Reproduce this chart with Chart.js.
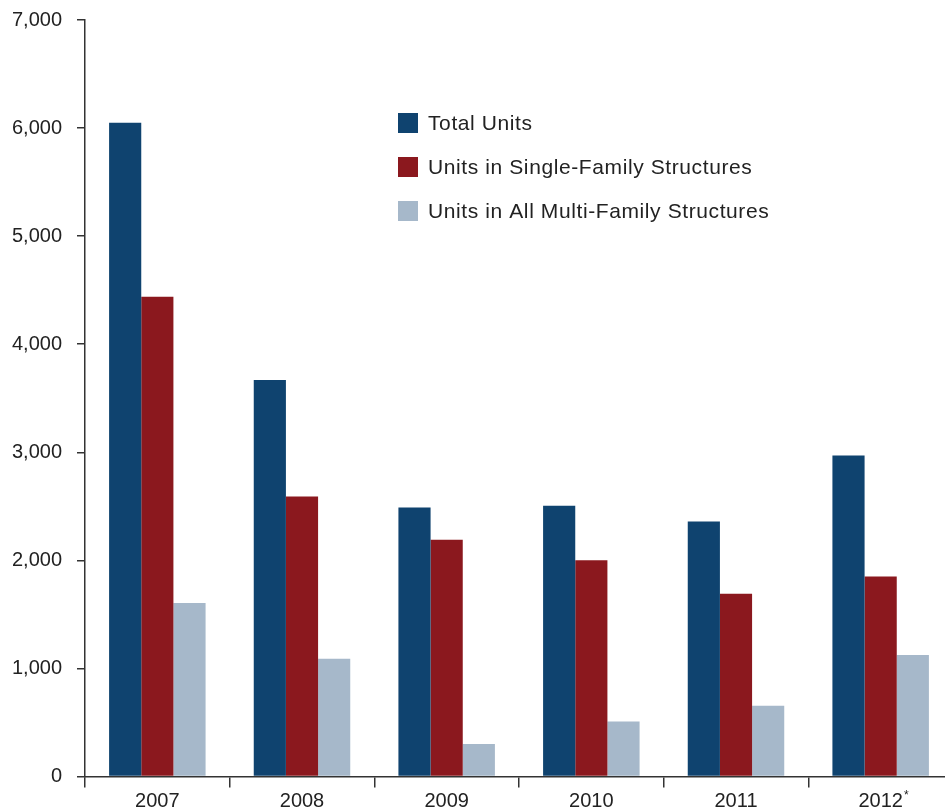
<!DOCTYPE html>
<html>
<head>
<meta charset="utf-8">
<script src="https://cdn.jsdelivr.net/npm/chart.js@4.4.0/dist/chart.umd.min.js"></script>
<style>
  html, body { margin: 0; padding: 0; background: #fff; overflow: hidden; }
  #wrap { width: 953px; height: 818px; position: relative; top: -7px; }
</style>
</head>
<body>
<div id="wrap"><canvas id="chart"></canvas></div>
<script>
// Dados
const years = ['2007', '2008', '2009', '2010', '2011', '2012'];
const totalUnits = [6050, 3670, 2490, 2505, 2360, 2970];
const singleFamily = [4440, 2590, 2190, 2000, 1690, 1850];
const multiFamily = [1605, 1090, 300, 510, 655, 1125];
const yTicks = [0, 1000, 2000, 3000, 4000, 5000, 6000, 7000];
const seriesNames = ['Total Units', 'Units in Single-Family Structures', 'Units in All Multi-Family Structures'];
const colors = ['#0f436f', '#8b181e', '#a6b8ca'];

const textColor = '#222';
const fontFamily = '"Liberation Sans", Arial, Helvetica, sans-serif';

// legenda dentro da área do gráfico (o canvas está deslocado 7px para cima)
const legendInside = {
    id: 'legendInside',
    afterDraw(chart) {
        const ctx = chart.ctx;
        ctx.save();
        ctx.font = '21px ' + fontFamily;
        ctx.letterSpacing = '0.6px';
        ctx.textBaseline = 'middle';
        seriesNames.forEach((name, i) => {
            const y = 130 + i * 44;
            ctx.fillStyle = colors[i];
            ctx.fillRect(398, y - 10, 20, 20);
            ctx.fillStyle = textColor;
            ctx.fillText(name, 428, y + 1);
        });
        ctx.restore();
    }
};

// asterisco sobrescrito em 2012
const asterisk = {
    id: 'asterisk',
    afterDraw(chart) {
        const ctx = chart.ctx;
        const x = chart.scales.x;
        ctx.save();
        ctx.font = '20px ' + fontFamily;
        const w = ctx.measureText(years[5]).width;
        const px = x.getPixelForValue(5) + w / 2 + 1;
        ctx.font = '12px ' + fontFamily;
        ctx.fillStyle = textColor;
        ctx.textBaseline = 'top';
        ctx.fillText('*', px, chart.scales.x.top + 13);
        ctx.restore();
    }
};

new Chart(document.getElementById('chart').getContext('2d'), {
    type: 'bar',
    data: {
        labels: years,
        datasets: [
            { label: seriesNames[0], data: totalUnits, backgroundColor: colors[0] },
            { label: seriesNames[1], data: singleFamily, backgroundColor: colors[1] },
            { label: seriesNames[2], data: multiFamily, backgroundColor: colors[2] }
        ]
    },
    options: {
        responsive: true,
        maintainAspectRatio: false,
        animation: false,
        layout: { padding: { top: 14, right: 0, left: 0, bottom: 0 } },
        datasets: { bar: { barPercentage: 1, categoryPercentage: 0.667 } },
        plugins: { legend: { display: false }, tooltip: { enabled: false } },
        scales: {
            x: {
                grid: { drawOnChartArea: false, drawTicks: true, tickLength: 11, color: '#333', lineWidth: 1.5, offset: true },
                border: { display: true, color: '#333', width: 1.5 },
                ticks: { color: textColor, font: { size: 20, family: fontFamily }, padding: 2, maxRotation: 0 },
                afterFit(scale) { scale.height = 34.5; }
            },
            y: {
                min: 0,
                max: 7000,
                afterBuildTicks(scale) { scale.ticks = yTicks.map(v => ({ value: v })); },
                grid: { drawOnChartArea: false, drawTicks: true, tickLength: 8, color: '#333', lineWidth: 1.5 },
                border: { display: true, color: '#333', width: 1.5 },
                ticks: {
                    color: textColor,
                    font: { size: 20, family: fontFamily },
                    padding: 15,
                    callback: v => v.toLocaleString('en-US')
                },
                afterFit(scale) { scale.width = 85; }
            }
        }
    },
    plugins: [legendInside, asterisk]
});
</script>
</body>
</html>
